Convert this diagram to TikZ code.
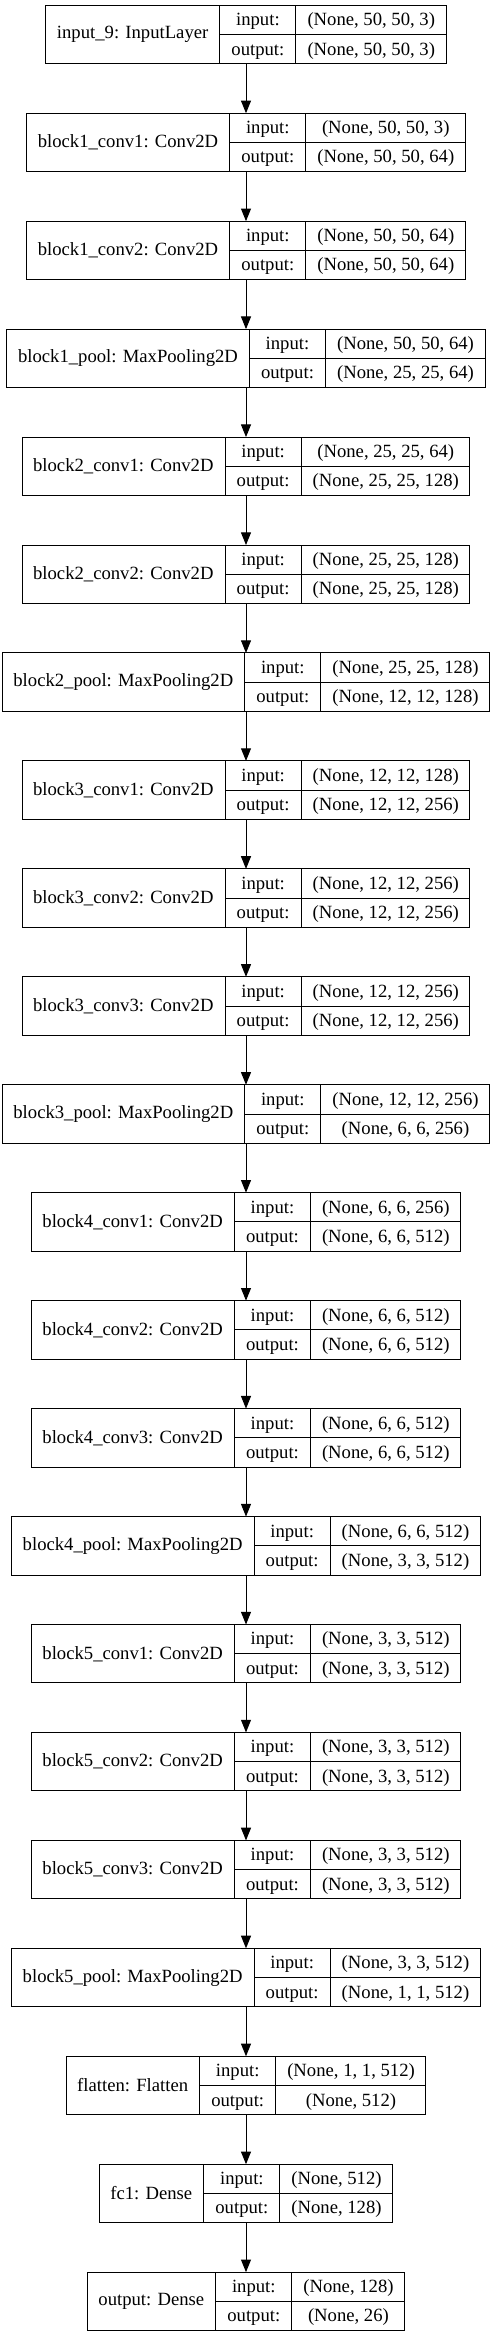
\documentclass[tikz,border=0pt]{standalone}
\usepackage{fontspec}
\setmainfont{Liberation Serif}
\usepackage{tikz}
\usetikzlibrary{shapes.multipart,positioning,arrows.meta}
\tikzset{>={Triangle[length=9.5pt,width=7.5pt]}}
\renewcommand{\arraystretch}{1.29}
\newcommand{\ports}[2]{\begin{tabular}{@{}c@{}}#1\\#2\end{tabular}}

\begin{document}
\begin{tikzpicture}[
layernode/.style={rectangle split, rectangle split horizontal, rectangle split parts=3, draw=black, inner xsep=8.3pt, inner ysep=0pt, outer sep=0pt, font=\fontsize{14}{17}\selectfont},
node distance=37.1pt,
line width=0.75pt,
]
\useasboundingbox (0,0) rectangle (369pt,-1754.25pt);
%Nodes
\node[layernode](input 9) at (184.5pt,-25.9pt){input\_9: InputLayer\nodepart{two}\ports{input:}{output:}\nodepart{three}\ports{(None, 50, 50, 3)}{(None, 50, 50, 3)}};
\node[layernode](block1 conv1)[below=of input 9]{block1\_conv1: Conv2D\nodepart{two}\ports{input:}{output:}\nodepart{three}\ports{(None, 50, 50, 3)}{(None, 50, 50, 64)}};
\node[layernode](block1 conv2)[below=of block1 conv1]{block1\_conv2: Conv2D\nodepart{two}\ports{input:}{output:}\nodepart{three}\ports{(None, 50, 50, 64)}{(None, 50, 50, 64)}};
\node[layernode](block1 pool)[below=of block1 conv2]{block1\_pool: MaxPooling2D\nodepart{two}\ports{input:}{output:}\nodepart{three}\ports{(None, 50, 50, 64)}{(None, 25, 25, 64)}};

\node[layernode](block2 conv1)[below=of block1 pool]{block2\_conv1: Conv2D\nodepart{two}\ports{input:}{output:}\nodepart{three}\ports{(None, 25, 25, 64)}{(None, 25, 25, 128)}};
\node[layernode](block2 conv2)[below=of block2 conv1]{block2\_conv2: Conv2D\nodepart{two}\ports{input:}{output:}\nodepart{three}\ports{(None, 25, 25, 128)}{(None, 25, 25, 128)}};
\node[layernode](block2 pool)[below=of block2 conv2]{block2\_pool: MaxPooling2D\nodepart{two}\ports{input:}{output:}\nodepart{three}\ports{(None, 25, 25, 128)}{(None, 12, 12, 128)}};

\node[layernode](block3 conv1)[below=of block2 pool]{block3\_conv1: Conv2D\nodepart{two}\ports{input:}{output:}\nodepart{three}\ports{(None, 12, 12, 128)}{(None, 12, 12, 256)}};
\node[layernode](block3 conv2)[below=of block3 conv1]{block3\_conv2: Conv2D\nodepart{two}\ports{input:}{output:}\nodepart{three}\ports{(None, 12, 12, 256)}{(None, 12, 12, 256)}};
\node[layernode](block3 conv3)[below=of block3 conv2]{block3\_conv3: Conv2D\nodepart{two}\ports{input:}{output:}\nodepart{three}\ports{(None, 12, 12, 256)}{(None, 12, 12, 256)}};
\node[layernode](block3 pool)[below=of block3 conv3]{block3\_pool: MaxPooling2D\nodepart{two}\ports{input:}{output:}\nodepart{three}\ports{(None, 12, 12, 256)}{(None, 6, 6, 256)}};

\node[layernode](block4 conv1)[below=of block3 pool]{block4\_conv1: Conv2D\nodepart{two}\ports{input:}{output:}\nodepart{three}\ports{(None, 6, 6, 256)}{(None, 6, 6, 512)}};
\node[layernode](block4 conv2)[below=of block4 conv1]{block4\_conv2: Conv2D\nodepart{two}\ports{input:}{output:}\nodepart{three}\ports{(None, 6, 6, 512)}{(None, 6, 6, 512)}};
\node[layernode](block4 conv3)[below=of block4 conv2]{block4\_conv3: Conv2D\nodepart{two}\ports{input:}{output:}\nodepart{three}\ports{(None, 6, 6, 512)}{(None, 6, 6, 512)}};
\node[layernode](block4 pool)[below=of block4 conv3]{block4\_pool: MaxPooling2D\nodepart{two}\ports{input:}{output:}\nodepart{three}\ports{(None, 6, 6, 512)}{(None, 3, 3, 512)}};

\node[layernode](block5 conv1)[below=of block4 pool]{block5\_conv1: Conv2D\nodepart{two}\ports{input:}{output:}\nodepart{three}\ports{(None, 3, 3, 512)}{(None, 3, 3, 512)}};
\node[layernode](block5 conv2)[below=of block5 conv1]{block5\_conv2: Conv2D\nodepart{two}\ports{input:}{output:}\nodepart{three}\ports{(None, 3, 3, 512)}{(None, 3, 3, 512)}};
\node[layernode](block5 conv3)[below=of block5 conv2]{block5\_conv3: Conv2D\nodepart{two}\ports{input:}{output:}\nodepart{three}\ports{(None, 3, 3, 512)}{(None, 3, 3, 512)}};
\node[layernode](block5 pool)[below=of block5 conv3]{block5\_pool: MaxPooling2D\nodepart{two}\ports{input:}{output:}\nodepart{three}\ports{(None, 3, 3, 512)}{(None, 1, 1, 512)}};

\node[layernode](flatten)[below=of block5 pool]{flatten: Flatten\nodepart{two}\ports{input:}{output:}\nodepart{three}\ports{(None, 1, 1, 512)}{(None, 512)}};
\node[layernode](fc1)[below=of flatten]{fc1: Dense\nodepart{two}\ports{input:}{output:}\nodepart{three}\ports{(None, 512)}{(None, 128)}};
\node[layernode](output)[below=of fc1]{output: Dense\nodepart{two}\ports{input:}{output:}\nodepart{three}\ports{(None, 128)}{(None, 26)}};

%Splits
\draw (input 9.one split) -- (input 9.east);
\draw (block1 conv1.one split) -- (block1 conv1.east);
\draw (block1 conv2.one split) -- (block1 conv2.east);
\draw (block1 pool.one split) -- (block1 pool.east);
\draw (block2 conv1.one split) -- (block2 conv1.east);
\draw (block2 conv2.one split) -- (block2 conv2.east);
\draw (block2 pool.one split) -- (block2 pool.east);
\draw (block3 conv1.one split) -- (block3 conv1.east);
\draw (block3 conv2.one split) -- (block3 conv2.east);
\draw (block3 conv3.one split) -- (block3 conv3.east);
\draw (block3 pool.one split) -- (block3 pool.east);
\draw (block4 conv1.one split) -- (block4 conv1.east);
\draw (block4 conv2.one split) -- (block4 conv2.east);
\draw (block4 conv3.one split) -- (block4 conv3.east);
\draw (block4 pool.one split) -- (block4 pool.east);
\draw (block5 conv1.one split) -- (block5 conv1.east);
\draw (block5 conv2.one split) -- (block5 conv2.east);
\draw (block5 conv3.one split) -- (block5 conv3.east);
\draw (block5 pool.one split) -- (block5 pool.east);
\draw (flatten.one split) -- (flatten.east);
\draw (fc1.one split) -- (fc1.east);
\draw (output.one split) -- (output.east);

%Lines
\draw[->] (input 9) -- (block1 conv1);
\draw[->] (block1 conv1) -- (block1 conv2);
\draw[->] (block1 conv2) -- (block1 pool);
\draw[->] (block1 pool) -- (block2 conv1);
\draw[->] (block2 conv1) -- (block2 conv2);
\draw[->] (block2 conv2) -- (block2 pool);
\draw[->] (block2 pool) -- (block3 conv1);
\draw[->] (block3 conv1) -- (block3 conv2);
\draw[->] (block3 conv2) -- (block3 conv3);
\draw[->] (block3 conv3) -- (block3 pool);
\draw[->] (block3 pool) -- (block4 conv1);
\draw[->] (block4 conv1) -- (block4 conv2);
\draw[->] (block4 conv2) -- (block4 conv3);
\draw[->] (block4 conv3) -- (block4 pool);
\draw[->] (block4 pool) -- (block5 conv1);
\draw[->] (block5 conv1) -- (block5 conv2);
\draw[->] (block5 conv2) -- (block5 conv3);
\draw[->] (block5 conv3) -- (block5 pool);
\draw[->] (block5 pool) -- (flatten);
\draw[->] (flatten) -- (fc1);
\draw[->] (fc1) -- (output);
\end{tikzpicture}
\end{document}
